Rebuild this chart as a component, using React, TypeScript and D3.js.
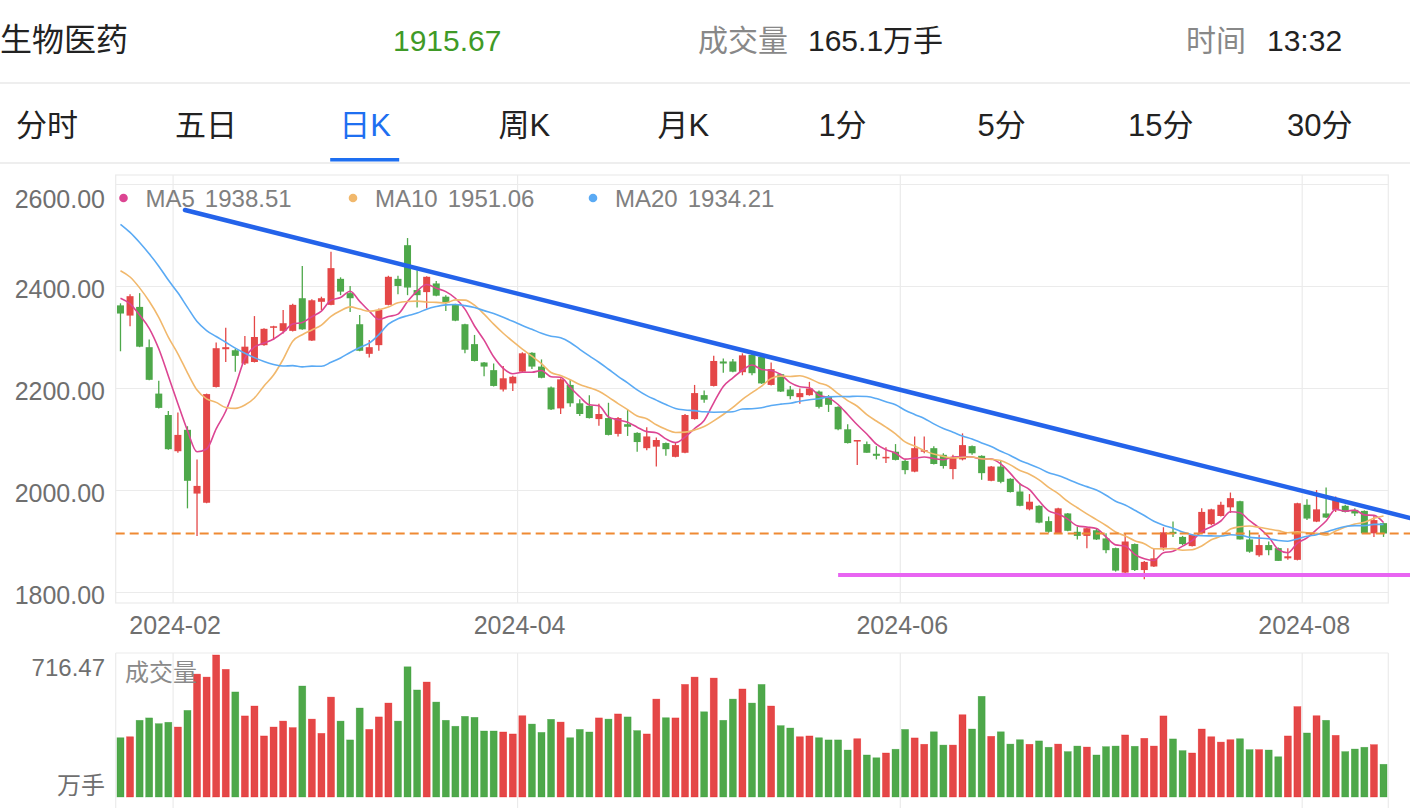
import React from "react";
import * as d3 from "d3";

// ---------- DATA ----------
const tradingDays: [string, number[]][] = [
  ["2024-01", [24, 25, 26, 29, 30, 31]],
  ["2024-02", [1, 2, 5, 6, 7, 8, 19, 20, 21, 22, 23, 26, 27, 28, 29]],
  ["2024-03", [1, 4, 5, 6, 7, 8, 11, 12, 13, 14, 15, 18, 19, 20, 21, 22, 25, 26, 27, 28, 29]],
  ["2024-04", [1, 2, 3, 8, 9, 10, 11, 12, 15, 16, 17, 18, 19, 22, 23, 24, 25, 26, 29, 30]],
  ["2024-05", [6, 7, 8, 9, 10, 13, 14, 15, 16, 17, 20, 21, 22, 23, 24, 27, 28, 29, 30, 31]],
  ["2024-06", [3, 4, 5, 6, 7, 11, 12, 13, 14, 17, 18, 19, 20, 21, 24, 25, 26, 27, 28]],
  ["2024-07", [1, 2, 3, 4, 5, 8, 9, 10, 11, 12, 15, 16, 17, 18, 19, 22, 23, 24, 25, 26, 29, 30, 31]],
  ["2024-08", [1, 2, 5, 6, 7, 8, 9, 12, 13]],
];

const opens = [2363,2343,2360,2281,2190,2148,2077,2119,1994,1976,
2203,2277,2275,2249,2252,2285,2319,2313,2313,2377,
2294,2370,2364,2415,2387,2326,2268,2285,2364,2415,
2481,2393,2389,2406,2380,2364,2326,2287,2251,2236,
2198,2210,2233,2270,2243,2202,2161,2207,2171,2166,
2140,2142,2111,2130,2113,2083,2086,2093,2066,2074,
2140,2187,2205,2253,2253,2232,2266,2262,2207,2228,
2198,2183,2187,2194,2185,2164,2120,2096,2091,2072,
2063,2076,2058,2037,2076,2083,2070,2042,2061,2087,
2068,2019,2047,2023,1998,1963,1970,1940,1916,1955,
1919,1911,1922,1906,1887,1839,1895,1844,1851,1888,
1919,1909,1891,1916,1934,1950,1967,1979,1904,1873,
1893,1887,1867,1864,1972,1939,1955,1962,1970,1962,
1960,1916,1936];

const highs = [2367,2385,2387,2296,2215,2156,2153,2126,2061,2190,
2290,2319,2278,2303,2342,2318,2323,2354,2366,2440,
2375,2380,2468,2418,2401,2344,2295,2357,2421,2421,
2495,2432,2420,2411,2383,2366,2327,2305,2252,2249,
2244,2225,2271,2271,2257,2204,2220,2217,2179,2187,
2170,2172,2144,2158,2114,2124,2104,2094,2093,2150,
2207,2196,2264,2259,2258,2269,2268,2264,2251,2229,
2205,2200,2213,2196,2187,2165,2130,2099,2096,2087,
2085,2091,2060,2106,2106,2087,2073,2070,2112,2088,
2069,2048,2060,2024,2014,1993,1971,1949,1966,1956,
1929,1928,1925,1916,1888,1916,1896,1862,1887,1928,
1939,1911,1914,1965,1964,1978,1996,1980,1922,1913,
1900,1888,1887,1976,1983,2001,2006,1988,1972,1965,
1961,1952,1937];

const lows = [2273,2322,2281,2216,2161,2080,2074,1965,1911,1975,
2202,2252,2233,2246,2251,2284,2295,2308,2312,2315,
2293,2354,2363,2383,2350,2273,2261,2274,2363,2385,
2383,2359,2357,2381,2352,2332,2269,2253,2224,2204,
2194,2195,2232,2238,2220,2158,2150,2164,2146,2141,
2127,2108,2106,2107,2076,2079,2047,2068,2065,2073,
2139,2172,2204,2231,2232,2226,2226,2209,2206,2193,
2179,2170,2186,2161,2154,2118,2092,2050,2074,2061,
2054,2059,2032,2036,2073,2051,2043,2022,2059,2070,
2021,2018,2014,1996,1969,1961,1936,1917,1915,1920,
1904,1887,1903,1877,1841,1831,1842,1826,1850,1882,
1909,1893,1890,1915,1932,1949,1956,1904,1878,1870,
1873,1862,1864,1863,1942,1938,1946,1958,1957,1950,
1915,1909,1909];

const closes = [2347,2381,2282,2217,2162,2081,2109,2019,2009,2189,
2279,2281,2264,2282,2301,2317,2322,2328,2364,2316,
2373,2377,2436,2390,2377,2274,2281,2354,2419,2401,
2398,2383,2419,2382,2368,2333,2276,2254,2243,2205,
2220,2223,2269,2243,2221,2159,2218,2171,2150,2142,
2150,2109,2142,2125,2095,2106,2099,2081,2089,2148,
2191,2178,2254,2249,2233,2265,2230,2210,2238,2194,
2185,2191,2200,2164,2168,2120,2093,2099,2074,2068,
2066,2060,2040,2083,2079,2052,2048,2066,2089,2073,
2034,2047,2017,1997,1970,1978,1937,1919,1965,1921,
1911,1926,1904,1883,1843,1900,1844,1860,1867,1918,
1915,1895,1913,1958,1963,1972,1985,1904,1880,1893,
1883,1862,1871,1975,1945,1963,1947,1985,1958,1955,
1916,1942,1915.67];

// closes of the 19 sessions before the first visible one (for the moving averages)
const priorCloses = [2700,2680,2660,2645,2625,2610,2590,2565,2540,2515,2505,2495,2480,2475,2470,2436,2392,2347,2363];

const volumes = [299,304,387,399,370,377,353,437,620,605,
716.47,644,530,409,459,308,353,383,350,560,
393,321,504,383,288,449,341,404,474,383,
657,540,580,479,387,357,407,402,333,333,
328,318,410,368,326,392,378,299,341,328,
399,393,419,404,335,318,494,400,399,568,
605,430,600,387,494,545,474,568,459,360,
348,304,308,299,288,288,237,294,212,198,
222,241,341,298,266,329,262,262,415,343,
508,306,329,267,289,266,283,251,267,229,
257,252,212,254,257,313,256,296,257,409,
293,234,222,343,304,277,289,294,239,239,
237,203,308,456,323,410,387,311,229,242,
251,264,165.1];

const priceTicks = [1800, 2000, 2200, 2400, 2600];
const monthTicks = ["2024-02", "2024-04", "2024-06", "2024-08"];
const maPeriods = [5, 10, 20];
const maLegendValues = ["1938.51", "1951.06", "1934.21"];
const tabs = ["分时", "五日", "日K", "周K", "月K", "1分", "5分", "15分", "30分"];
const activeTab = "日K";
const title = "生物医药";
const lastPrice = "1915.67";
const volumeText = "165.1万手";
const timeText = "13:32";
const volMaxLabel = "716.47";

// annotation lines: [index position, price]
const resistanceLine: [number, number][] = [[6.74, 2550], [134.8, 1946]];
const supportLine: [number, number][] = [[75.0, 1834.3], [134.8, 1834.3]];
const currentPriceLine = 1915.67;

// ---------- STYLE ----------
const FONT = '"Liberation Sans", "Noto Sans CJK SC", sans-serif';
const UP = "#e44747";
const DOWN = "#4ea84a";
const MA_COLORS = ["#dc4592", "#f1b86c", "#5aaaf4"];
const GRID = "#ebebeb";

export default function App() {
  const dates = tradingDays.flatMap(([m, ds]) => ds.map((d) => `${m}-${String(d).padStart(2, "0")}`));
  const n = dates.length;

  const L = 115.7, R = 1388.3;
  const pTop = 175, pBottom = 603;
  const vTop = 653, vBase = 797;

  const x = d3.scaleBand<string>().domain(dates).range([L, R]).padding(0);
  const bw = x.bandwidth();
  const cx = (i: number) => (x(dates[i]) as number) + bw / 2;
  const xi = d3.scaleLinear().domain([-0.5, n - 0.5]).range([L, R]);

  const y = d3.scaleLinear().domain([1800, 2600]).range([592.5, 184.5]);
  const yv = d3.scaleLinear().domain([0, d3.max(volumes) as number]).range([vBase, 655]);

  const allCloses = priorCloses.concat(closes);
  const maSeries = maPeriods.map((p) =>
    closes.map((_, i) => {
      const end = priorCloses.length + i + 1;
      return d3.mean(allCloses.slice(end - p, end)) as number;
    })
  );
  const line = d3.line<number>().x((_, i) => cx(i)).y((v) => y(v)).curve(d3.curveMonotoneX);
  const annLine = d3.line<[number, number]>().x((d) => xi(d[0])).y((d) => y(d[1]));

  const bodyW = 7;
  const legendX = [123.5, 353, 593];

  return (
    <svg width={1410} height={808} style={{ position: "fixed", left: 0, top: 0, background: "#fff" }} fontFamily={FONT}>
      <rect x={0} y={0} width={1410} height={808} fill="#fff" />
      {/* header */}
      <text x={0} y={40} fontSize={32} fill="#222" dominantBaseline="central">{title}</text>
      <text x={393} y={40} fontSize={30} fill="#3f9a27" dominantBaseline="central">{lastPrice}</text>
      <text x={698} y={40} fontSize={30} fill="#888" dominantBaseline="central">成交量</text>
      <text x={808} y={40} fontSize={30} fill="#222" dominantBaseline="central">{volumeText}</text>
      <text x={1186} y={40} fontSize={30} fill="#888" dominantBaseline="central">时间</text>
      <text x={1267} y={40} fontSize={30} fill="#222" dominantBaseline="central">{timeText}</text>
      <line x1={0} x2={1410} y1={83} y2={83} stroke="#e8e8e8" strokeWidth={1.5} />

      {/* tabs */}
      {tabs.map((t, k) => {
        const c = 47 + 159.1 * k;
        const active = t === activeTab;
        return (
          <g key={t}>
            <text x={c} y={125} fontSize={31} textAnchor="middle" dominantBaseline="central" fill={active ? "#1e6ff1" : "#222"}>{t}</text>
            {active && <rect x={c - 35} y={158} width={69} height={3.5} fill="#1e6ff1" />}
          </g>
        );
      })}
      <line x1={0} x2={1410} y1={163} y2={163} stroke="#e8e8e8" strokeWidth={1.5} />

      {/* price panel frame + grid */}
      <rect x={L} y={pTop} width={R - L} height={pBottom - pTop} fill="none" stroke={GRID} strokeWidth={1.2} />
      {priceTicks.map((v) => (
        <g key={v}>
          <line x1={L} x2={R} y1={y(v)} y2={y(v)} stroke={GRID} strokeWidth={1.2} />
          <text x={105} y={Math.max(y(v), 197) + 2} fontSize={25} fill="#6f6f6f" textAnchor="end" dominantBaseline="central">{v.toFixed(2)}</text>
        </g>
      ))}
      {monthTicks.map((m) => {
        const i = dates.findIndex((d) => d.startsWith(m));
        const gx = x(dates[i]) as number;
        return (
          <g key={m}>
            <line x1={gx} x2={gx} y1={pTop} y2={pBottom} stroke={GRID} strokeWidth={1.2} />
            <line x1={gx} x2={gx} y1={vTop} y2={808} stroke={GRID} strokeWidth={1.2} />
            <text x={gx + 2} y={625} fontSize={25} fill="#6f6f6f" textAnchor="middle" dominantBaseline="central">{m}</text>
          </g>
        );
      })}

      {/* candles */}
      {dates.map((d, i) => {
        const up = closes[i] >= opens[i];
        const col = up ? UP : DOWN;
        const top = y(Math.max(opens[i], closes[i]));
        const bot = y(Math.min(opens[i], closes[i]));
        return (
          <g key={d}>
            <line x1={cx(i)} x2={cx(i)} y1={y(highs[i])} y2={y(lows[i])} stroke={col} strokeWidth={1.3} />
            <rect x={cx(i) - bodyW / 2} y={top} width={bodyW} height={Math.max(1.2, bot - top)} fill={col} />
          </g>
        );
      })}

      {/* moving averages */}
      {maSeries.map((s, k) => (
        <path key={k} d={line(s) as string} fill="none" stroke={MA_COLORS[k]} strokeWidth={1.6} />
      ))}

      {/* annotations */}
      <line x1={L} x2={1410} y1={y(currentPriceLine)} y2={y(currentPriceLine)} stroke="#ef8a33" strokeWidth={2} strokeDasharray="9,5" />
      <path d={annLine(supportLine) as string} stroke="#e864f2" strokeWidth={4} fill="none" />
      <path d={annLine(resistanceLine) as string} stroke="#2463ea" strokeWidth={4.5} fill="none" strokeLinecap="round" />

      {/* legend */}
      {maPeriods.map((p, k) => {
        const lx = legendX[k];
        return (
          <g key={p}>
            <circle cx={lx} cy={198} r={4.3} fill={MA_COLORS[k]} />
            <text x={lx + 22} y={198} fontSize={24} fill="#808080" dominantBaseline="central">
              {`MA${p}`}
              <tspan dx={10}>{maLegendValues[k]}</tspan>
            </text>
          </g>
        );
      })}

      {/* volume panel */}
      <line x1={L} x2={R} y1={vTop} y2={vTop} stroke={GRID} strokeWidth={1.2} />
      <line x1={L} x2={L} y1={vTop} y2={808} stroke={GRID} strokeWidth={1.2} />
      <line x1={R} x2={R} y1={vTop} y2={808} stroke={GRID} strokeWidth={1.2} />
      {dates.map((d, i) => {
        const up = closes[i] >= opens[i];
        return (
          <rect key={d} x={cx(i) - bodyW / 2} y={yv(volumes[i])} width={bodyW} height={vBase - yv(volumes[i])}
            fill={up ? UP : DOWN} stroke={up ? "#e11" : "#2f9a2f"} strokeWidth={0.6} strokeOpacity={0.5} />
        );
      })}
      <text x={125} y={672} fontSize={24} fill="#8a8a8a" dominantBaseline="central">成交量</text>
      <text x={105} y={667} fontSize={24} fill="#6f6f6f" textAnchor="end" dominantBaseline="central">{volMaxLabel}</text>
      <text x={105} y={785} fontSize={24} fill="#6f6f6f" textAnchor="end" dominantBaseline="central">万手</text>
    </svg>
  );
}
